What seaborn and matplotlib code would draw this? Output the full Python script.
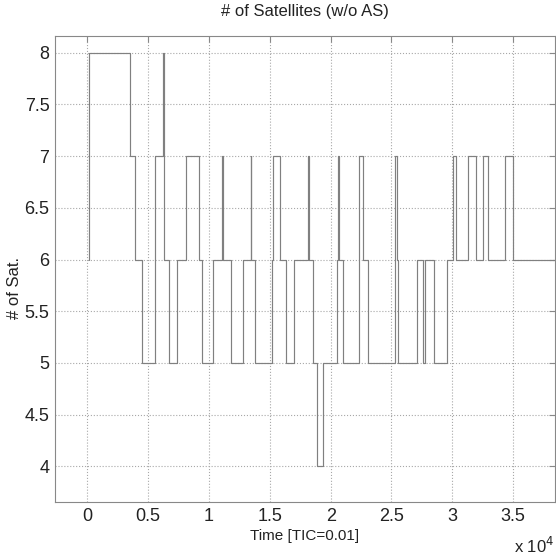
import matplotlib
matplotlib.use("Agg")
import matplotlib.pyplot as plt
import seaborn as sns
import pandas as pd

# Step change times (TIC) and number of satellites starting at each time
change_time = [140, 160, 3509, 3878, 4470, 5587, 6245, 6327, 6738, 7395,
               8069, 9203, 9400, 10370, 11044, 11110, 11783, 12818, 13426, 13490,
               13780, 15152, 15234, 15834, 16302, 16960, 18160, 18220, 18570, 18899,
               19343, 20542, 20624, 20690, 20986, 22350, 22630, 23090, 25284, 25424,
               25555, 27116, 27609, 27732, 28513, 29532, 30090, 30271, 31307, 31939,
               32490, 32950, 34338, 35004, 38430]
num_sat = [6, 8, 7, 6, 5, 7, 8, 6, 5, 6,
           7, 6, 5, 6, 7, 6, 5, 6, 7, 6,
           5, 6, 7, 6, 5, 6, 7, 6, 5, 4,
           5, 6, 7, 6, 5, 7, 6, 5, 7, 6,
           5, 6, 5, 6, 5, 6, 7, 6, 7, 6,
           7, 6, 7, 6, 6]

xtick_vals = [0, 5000, 10000, 15000, 20000, 25000, 30000, 35000]
xtick_labels = ["0", "0.5", "1", "1.5", "2", "2.5", "3", "3.5"]
ytick_vals = [4, 4.5, 5, 5.5, 6, 6.5, 7, 7.5, 8]
ytick_labels = ["4", "4.5", "5", "5.5", "6", "6.5", "7", "7.5", "8"]

sns.set_style("white")
plt.rcParams["font.family"] = ["Liberation Sans", "DejaVu Sans"]

df = pd.DataFrame({"t": change_time, "n": num_sat})

fig = plt.figure(figsize=(5.56, 5.60), dpi=100)
ax = fig.add_axes([0.099, 0.1036, 0.899, 0.8324])

sns.lineplot(data=df, x="t", y="n", ax=ax, estimator=None, sort=False,
             drawstyle="steps-post", color="#808080", linewidth=0.85)

ax.set_xlim(-2654, 38430)
ax.set_ylim(3.655, 8.164)
ax.set_xticks(xtick_vals)
ax.set_xticklabels(xtick_labels)
ax.set_yticks(ytick_vals)
ax.set_yticklabels(ytick_labels)

ax.grid(True, linestyle=":", color="#a8a8a8", linewidth=0.8)
ax.tick_params(direction="in", top=True, right=True, length=4, width=0.8,
               colors="#888888", labelcolor="#222222", labelsize=13, pad=4)
for s in ax.spines.values():
    s.set_color("#888888")
    s.set_linewidth(0.8)

ax.set_title("# of Satellites (w/o AS)", fontsize=12, color="#222222", pad=14)
ax.set_xlabel("Time [TIC=0.01]", fontsize=11, color="#222222", labelpad=3)
ax.set_ylabel("# of Sat.", fontsize=12, color="#222222")
ax.yaxis.set_label_coords(-0.066, 0.46)

fig.text(0.997, 0.008, r"x 10$^{4}$", fontsize=12, color="#222222", ha="right", va="bottom")

fig.savefig("out.png", dpi=100)
